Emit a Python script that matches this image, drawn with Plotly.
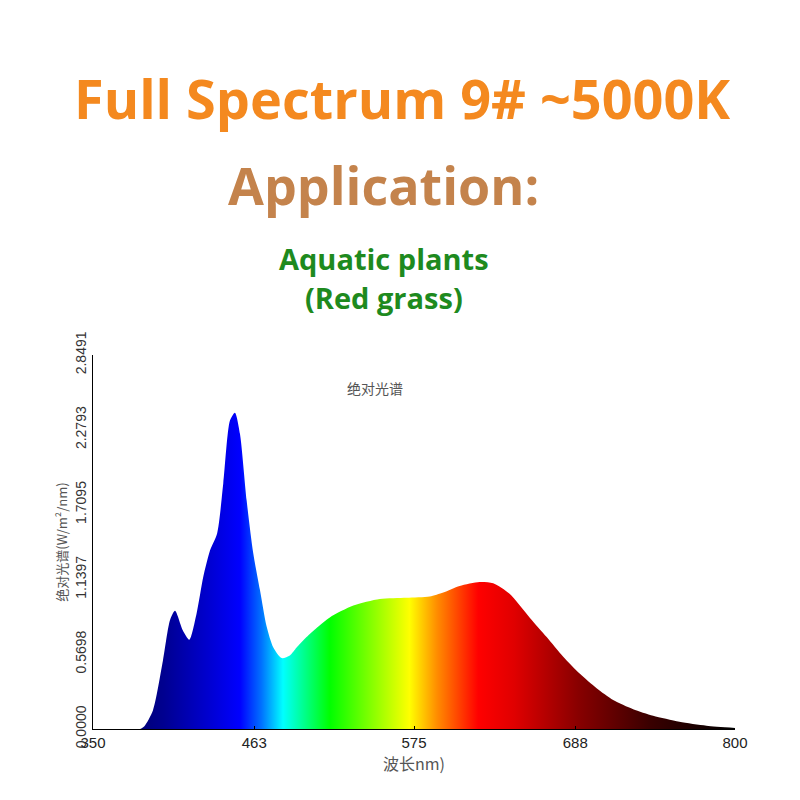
import plotly.graph_objects as go

# spectrum
wavelength = [350, 383, 386, 392, 399, 404, 407.5, 413, 417.5, 422.6, 427.3, 432, 437, 441.3, 446, 449.5,
              453, 457.7, 462.3, 467, 471.7, 476.4, 482.2, 488, 492.7, 499.7, 506.7, 516, 532.5, 551,
              569.8, 586, 595.5, 607, 621, 630.5, 642, 656, 668, 679.6, 691.3, 703, 714.6, 728.6,
              742.6, 761, 780, 800]
irradiance = [0, 0, 0.02, 0.14, 0.52, 0.83, 0.90, 0.75, 0.68, 0.88, 1.16, 1.36, 1.49, 1.87, 2.35, 2.41,
              2.25, 1.74, 1.34, 1.06, 0.78, 0.62, 0.54, 0.56, 0.62, 0.70, 0.77, 0.85, 0.94, 0.99,
              1.00, 1.01, 1.04, 1.09, 1.12, 1.11, 1.03, 0.85, 0.70, 0.55, 0.42, 0.31, 0.22, 0.15,
              0.10, 0.055, 0.025, 0.008]

x_ticks = [350, 463, 575, 688, 800]
y_ticks = [0.0, 0.5698, 1.1397, 1.7095, 2.2793, 2.8491]
y_ticktext = ["0.0000", "0.5698", "1.1397", "1.7095", "2.2793", "2.8491"]

rainbow = [[0.0, '#00004C'], [0.11, '#000090'], [0.18, '#0000D0'], [0.229, '#0000FF'],
           [0.262, '#0070FF'], [0.296, '#00FFFF'], [0.369, '#00FF00'], [0.493, '#FFFF00'],
           [0.536, '#FF8C00'], [0.60, '#FF0000'], [0.656, '#E00000'], [0.756, '#880000'],
           [0.867, '#3A0000'], [1.0, '#000000']]

fig = go.Figure()
fig.add_trace(go.Scatter(x=wavelength, y=irradiance, mode='lines', fill='tozeroy',
                         line=dict(width=0, shape='spline', smoothing=0.7),
                         fillgradient=dict(type='horizontal', colorscale=rainbow, start=350, stop=800),
                         hoverinfo='x+y', showlegend=False))

fig.update_xaxes(range=[350, 800], tickvals=x_ticks, ticktext=[str(t) for t in x_ticks],
                 showline=True, linecolor='black', linewidth=1, ticks='inside', ticklen=3,
                 tickcolor='black', showgrid=False, zeroline=False,
                 tickfont=dict(family='Liberation Sans, Arial', size=15, color='#222'))
fig.update_yaxes(range=[0, 2.8491], tickvals=y_ticks, ticktext=y_ticktext, tickangle=-90,
                 showline=True, linecolor='black', linewidth=1, ticks='', showgrid=False, zeroline=False,
                 tickfont=dict(family='Liberation Sans, Arial', size=14, color='#333'),
                 title=dict(text='绝对光谱(W/m²/nm)', standoff=2,
                            font=dict(family='Noto Sans CJK SC', size=13, color='#555')))

txt = [
    dict(text='<b>Full Spectrum 9# ~5000K</b>', x=0.481, y=1.687, size=54, color='#F4891F', family='Open Sans'),
    dict(text='<b>Application:</b>', x=0.453, y=1.457, size=52, color='#C4834C', family='Open Sans'),
    dict(text='<b>Aquatic plants</b>', x=0.453, y=1.257, size=29, color='#1E8A1E', family='Open Sans'),
    dict(text='<b>(Red grass)</b>', x=0.453, y=1.155, size=29, color='#1E8A1E', family='Open Sans'),
    dict(text='绝对光谱', x=0.439, y=0.912, size=14, color='#555', family='Noto Sans CJK SC'),
    dict(text='波长nm)', x=0.5, y=-0.09, size=16, color='#555', family='Noto Sans CJK SC'),
]
for t in txt:
    fig.add_annotation(text=t['text'], x=t['x'], y=t['y'], xref='paper', yref='paper', showarrow=False,
                       xanchor='center', yanchor='middle',
                       font=dict(family=t['family'], size=t['size'], color=t['color']))

# page body adds an 8px offset, margins compensate so the plot area sits where the reference has it
fig.update_layout(width=800, height=800, template='simple_white', plot_bgcolor='white',
                  paper_bgcolor='white', margin=dict(l=85, r=73, t=347, b=79))

fig.write_html("out.html")
